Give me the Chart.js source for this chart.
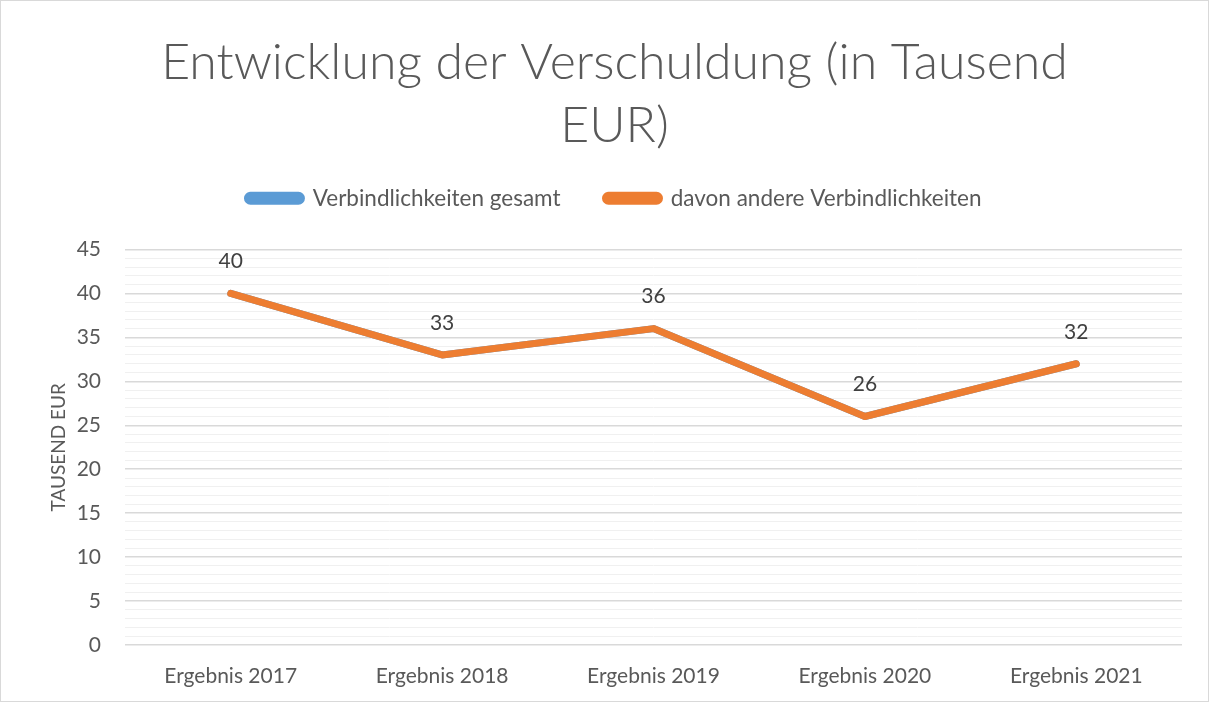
<!DOCTYPE html>
<html>
<head>
<meta charset="utf-8">
<script src="https://cdn.jsdelivr.net/npm/chart.js@4"></script>
<style>
  html, body { margin: 0; padding: 0; background: #fff; }
  #wrap { position: relative; width: 1209px; height: 702px; box-sizing: border-box; border: 1px solid #d9d9d9; }
</style>
</head>
<body>
<div id="wrap"><canvas id="chart"></canvas></div>
<script>
// chart values
const categories = ['Ergebnis 2017', 'Ergebnis 2018', 'Ergebnis 2019', 'Ergebnis 2020', 'Ergebnis 2021'];
const gesamtValues = [40, 33, 36, 26, 32];
const andereValues = [40, 33, 36, 26, 32];
const yMax = 45;

const FONT = 'Lato, "Open Sans", sans-serif';

// simple value labels above the orange line
const valueLabels = {
    id: 'valueLabels',
    afterDatasetsDraw(chart) {
        const ctx = chart.ctx;
        const meta = chart.getDatasetMeta(1);
        ctx.save();
        ctx.font = '21px ' + FONT;
        ctx.fillStyle = '#404040';
        ctx.textAlign = 'center';
        ctx.textBaseline = 'middle';
        meta.data.forEach((pt, i) => {
            ctx.fillText(String(andereValues[i]), pt.x, pt.y - 32);
        });
        ctx.restore();
    }
};

// extra room under the legend
const legendGap = {
    id: 'legendGap',
    beforeInit(chart) {
        const fit = chart.legend.fit;
        chart.legend.fit = function () {
            fit.bind(chart.legend)();
            this.height += 30;
        };
    }
};

const ctx = document.getElementById('chart').getContext('2d');
new Chart(ctx, {
    type: 'line',
    data: {
        labels: categories,
        datasets: [
            {
                label: 'Verbindlichkeiten gesamt',
                data: gesamtValues,
                borderColor: '#5B9BD5',
                backgroundColor: '#5B9BD5',
                borderWidth: 7,
                borderCapStyle: 'round',
                borderJoinStyle: 'round',
                pointRadius: 0,
                order: 1
            },
            {
                label: 'davon andere Verbindlichkeiten',
                data: andereValues,
                borderColor: '#ED7D31',
                backgroundColor: '#ED7D31',
                borderWidth: 7,
                borderCapStyle: 'round',
                borderJoinStyle: 'round',
                pointRadius: 0,
                order: 0
            }
        ]
    },
    options: {
        responsive: true,
        maintainAspectRatio: false,
        animation: false,
        layout: { padding: { left: 46, right: 26, top: 30, bottom: 10 } },
        plugins: {
            tooltip: { enabled: false },
            title: {
                display: true,
                text: ['Entwicklung der Verschuldung (in Tausend', 'EUR)'],
                color: '#595959',
                font: { family: FONT, size: 50, weight: 300, lineHeight: 1.26 },
                padding: { top: 0, bottom: -15 }
            },
            legend: {
                position: 'top',
                labels: {
                    color: '#595959',
                    font: { family: FONT, size: 22.5 },
                    boxWidth: 54,
                    boxHeight: 6,
                    useBorderRadius: true,
                    borderRadius: 3,
                    padding: 45,
                    sort: (a, b) => a.datasetIndex - b.datasetIndex
                }
            }
        },
        scales: {
            x: {
                offset: true,
                grid: { display: false },
                border: { display: false },
                ticks: { color: '#595959', font: { family: FONT, size: 21 }, padding: 11 },
                afterFit: s => { s.height = 46; }
            },
            y: {
                min: 0,
                max: yMax,
                border: { display: false },
                title: {
                    display: true,
                    text: 'TAUSEND EUR',
                    color: '#595959',
                    font: { family: FONT, size: 19 },
                    padding: { top: 0, bottom: 8 }
                },
                grid: {
                    color: c => (c.tick && c.tick.value % 5 === 0) ? '#d9d9d9' : '#f0f0f0',
                    lineWidth: c => (c.tick && c.tick.value % 5 === 0) ? 1.5 : 1,
                    drawTicks: false
                },
                ticks: {
                    stepSize: 1,
                    autoSkip: false,
                    padding: 24,
                    color: '#595959',
                    font: { family: FONT, size: 21 },
                    callback: v => (v % 5 === 0 ? String(v) : '')
                },
                afterFit: s => { s.width = 78; }
            }
        }
    },
    plugins: [valueLabels, legendGap]
});
</script>
</body>
</html>
